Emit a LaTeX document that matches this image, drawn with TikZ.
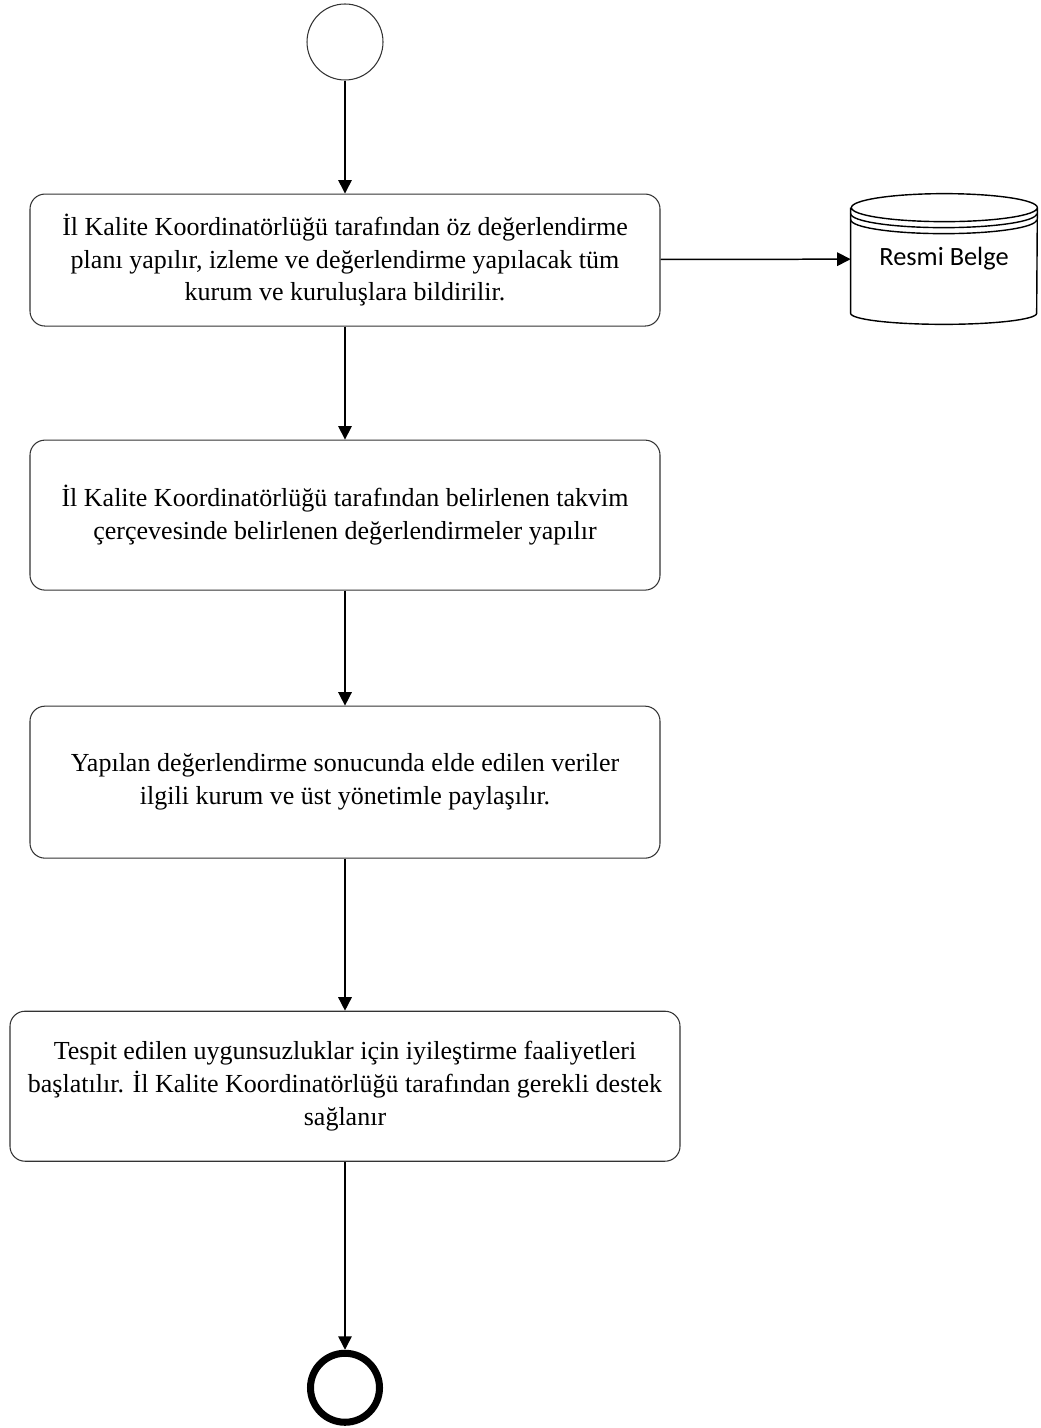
\documentclass[tikz,border=0pt]{standalone}
\usepackage{fontspec}
\setmainfont{Liberation Serif}
\newfontfamily\belgefont{Carlito}
\usetikzlibrary{positioning}
\usetikzlibrary{arrows.meta}

\begin{document}
\begin{tikzpicture}[node distance={22.6mm}, main/.style = {draw=black!80, line width=0.6pt, rounded corners=3mm, align=center, minimum width=12.6cm, font=\fontsize{14.8}{18.7}\selectfont}, ev/.style = {draw, circle, minimum size=1.52cm}, ok/.style = {-{Triangle[length=2.7mm, width=2.7mm]}, line width=0.85pt}]
\useasboundingbox (0,0) rectangle (20.8,-28.56);
\node[ev, draw=black!80, line width=0.6pt] (0) at (6.9,-0.84) {};
\node[main, minimum height=2.64cm] (1) [below=2.26cm of 0] {İl Kalite Koordinatörlüğü tarafından öz değerlendirme\\ planı yapılır, izleme ve değerlendirme yapılacak tüm\\ kurum ve kuruluşlara bildirilir.};
\node[main, minimum height=3cm] (2) [below=2.26cm of 1] {İl Kalite Koordinatörlüğü tarafından belirlenen takvim\\ çerçevesinde belirlenen değerlendirmeler yapılır};
\node[main, minimum height=3.04cm] (3) [below=2.3cm of 2] {Yapılan değerlendirme sonucunda elde edilen veriler\\ ilgili kurum ve üst yönetimle paylaşılır.};
\node[main, minimum height=3cm, minimum width=13.4cm] (4) [below=3.04cm of 3] {Tespit edilen uygunsuzluklar için iyileştirme faaliyetleri\\ başlatılır. İl Kalite Koordinatörlüğü tarafından gerekli destek\\ sağlanır};
\node[ev, line width=4pt, minimum size=1.38cm] (5) [below=3.76cm of 4] {};
\node[minimum width=3.72cm, minimum height=2.6cm, font=\belgefont\fontsize{15}{18}\selectfont] (6) at (18.88,-5.18) {\raisebox{-0.08cm}{Resmi Belge}};
% belge silindiri
\draw[line width=0.8pt] ([yshift=-0.28cm]6.north west) -- ([yshift=0.22cm]6.south west) arc[start angle=180, end angle=360, x radius=1.86cm, y radius=0.22cm] -- ([yshift=-0.28cm]6.north east) arc[start angle=0, end angle=360, x radius=1.86cm, y radius=0.28cm];
\draw[line width=0.8pt] ([yshift=-0.40cm]6.north west) arc[start angle=180, end angle=360, x radius=1.86cm, y radius=0.28cm];
\draw[line width=0.8pt] ([yshift=-0.52cm]6.north west) arc[start angle=180, end angle=360, x radius=1.86cm, y radius=0.28cm];
\draw[ok] (0) -- (1);
\draw[ok] (1) -- (2);
\draw[ok] (2) -- (3);
\draw[ok] (3) -- (4);
\draw[ok] (4) -- (5);
\draw[ok] (1) -- (6);
\end{tikzpicture}
\end{document}
